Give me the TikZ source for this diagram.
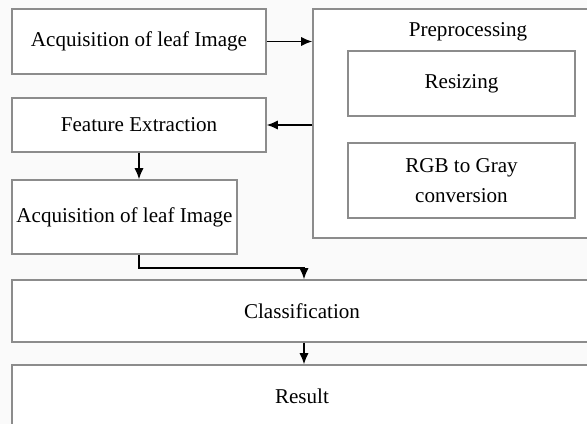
\documentclass[tikz,border=0pt]{standalone}
\usepackage{fontspec}
\setmainfont{Liberation Serif}
\usetikzlibrary{arrows.meta}
\tikzset{
	blk/.style={draw=black!45, line width=1pt, fill=white, inner sep=0pt, font=\fontsize{18}{25}\selectfont, align=center},
	arr/.style={-{Latex[length=3.4mm,width=2.8mm]}, line width=1.4pt},
}

\begin{document}
\begin{tikzpicture}[x=0.03cm, y=-0.03cm]
		%%%%% START %%%%%
		
		\useasboundingbox (0, 0) rectangle (587, 424);
		\fill[black!2] (0, 0) rectangle (587, 424);
		
		% left column
		\node[blk, minimum width=7.62cm, minimum height=1.95cm] (acqa) at (139, 41.5) {Acquisition of leaf Image};
		\node[blk, minimum width=7.62cm, minimum height=1.62cm] (feat) at (139, 125) {Feature Extraction};
		\node[blk, minimum width=6.75cm, minimum height=2.22cm] (acqb) at (124.5, 217) {Acquisition of leaf Image};
		
		% preprocessing block
		\node[blk, minimum width=8.37cm, minimum height=6.87cm] (prep) at (452.5, 123.5) {};
		\node[blk, draw=none, fill=none] (preptitle) at (468, 32) {Preprocessing};
		\node[blk, minimum width=6.81cm, minimum height=1.95cm] (resize) at (461.5, 83.5) {Resizing};
		\node[blk, minimum width=6.81cm, minimum height=2.25cm] (gray) at (461.5, 180.5) {RGB to Gray\\conversion};
		
		% bottom rows
		\node[blk, minimum width=17.4cm, minimum height=1.86cm] (class) at (302, 311) {Classification};
		\node[blk, minimum width=17.4cm, minimum height=1.89cm] (result) at (302, 396.5) {Result};
		
		% connectors
		\draw[arr] (acqa.east) -- (acqa.east -| prep.west);
		\draw[arr] (prep.west |- feat.east) -- (feat.east);
		\draw[arr] (feat.south) -- (feat.south |- acqb.north);
		\coordinate (bend) at (139, 268);
		\draw[arr] (bend |- acqb.south) -- (bend) -| ([xshift=0.06cm]class.north);
		\draw[arr] ([xshift=0.06cm]class.south) -- ([xshift=0.06cm]result.north);
		
		%%%%% END %%%%%
	\end{tikzpicture}
\end{document}
